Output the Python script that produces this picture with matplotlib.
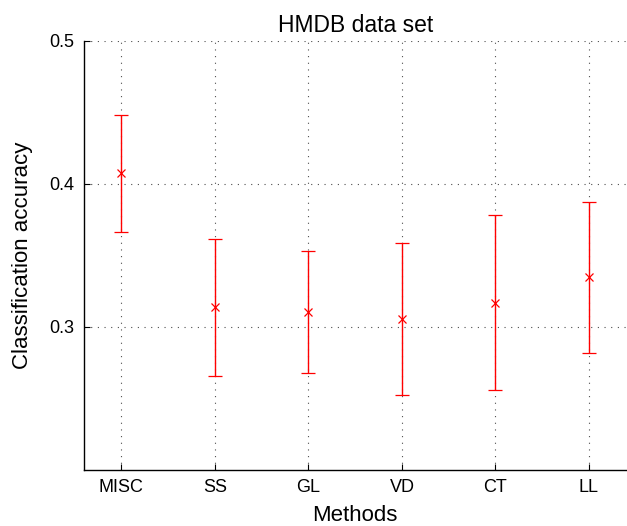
import matplotlib
matplotlib.use("Agg")
import matplotlib.pyplot as plt
import numpy as np

methods = ["MISC", "SS", "GL", "VD", "CT", "LL"]
accuracy = [0.4073, 0.3136, 0.3105, 0.3054, 0.3168, 0.3345]
err_low = [0.0414, 0.0479, 0.0431, 0.0532, 0.0611, 0.0532]
err_high = [0.0407, 0.0476, 0.0424, 0.0532, 0.0611, 0.0525]
yticks = [0.3, 0.4, 0.5]

plt.rcParams['font.family'] = ['Liberation Sans', 'DejaVu Sans']

fig = plt.figure(figsize=(6.27, 5.26), dpi=100)
ax = fig.add_axes([0.1340, 0.1074, 0.8650, 0.8152])

x = np.arange(1, len(methods) + 1)
ax.errorbar(x, accuracy, yerr=[err_low, err_high], fmt='x', color='red',
            ecolor='red', elinewidth=1.0, capsize=5, capthick=1.0,
            markersize=6, markeredgewidth=0.9, zorder=3)

ax.set_xlim(0.6, 6.4)
ax.set_ylim(0.2, 0.5)
ax.set_xticks(x)
ax.set_xticklabels(methods)
ax.set_yticks(yticks)
ax.set_yticklabels([f"{v:.1f}" for v in yticks])

ax.grid(True, color='0.3', linestyle=(0, (1, 5)), linewidth=0.8)
ax.set_axisbelow(True)

for s in ['top', 'right']:
    ax.spines[s].set_visible(False)
for s in ['left', 'bottom']:
    ax.spines[s].set_linewidth(1.0)

ax.tick_params(direction='in', length=4, width=0.8, labelsize=13)
ax.tick_params(axis='y', pad=7)
ax.tick_params(axis='x', pad=7)

ax.set_title("HMDB data set", fontsize=16.5, pad=6)
ax.set_xlabel("Methods", fontsize=16, labelpad=6)
ax.set_ylabel("Classification accuracy", fontsize=16, labelpad=12)

fig.savefig("out.png", dpi=100)
